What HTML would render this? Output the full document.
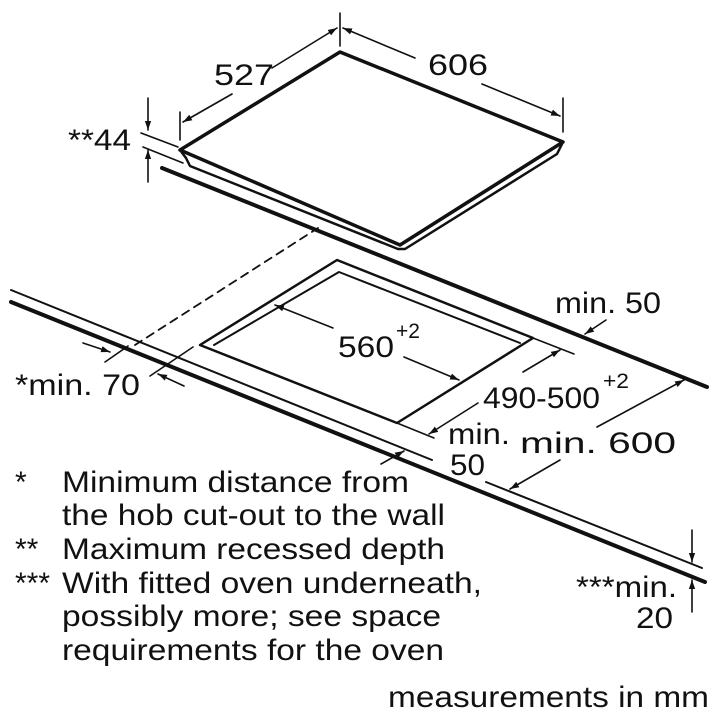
<!DOCTYPE html>
<html><head><meta charset="utf-8"><style>
html,body{margin:0;padding:0;background:#fff;width:720px;height:720px;overflow:hidden}
svg{display:block}
text{font-family:"Liberation Sans",Arial,sans-serif;fill:#111}
</style></head><body>
<svg width="720" height="720" viewBox="0 0 720 720" xmlns="http://www.w3.org/2000/svg">
<defs>
<marker id="a" viewBox="0 0 10 10" refX="10" refY="5" markerWidth="9" markerHeight="9" markerUnits="userSpaceOnUse" orient="auto"><path d="M0,1.5 L10,5 L0,8.5 z" fill="#111"/></marker>
</defs>
<g stroke="#111" fill="none" stroke-linecap="round" stroke-linejoin="round">
<polygon points="340,52 563,142 400,245 180,150" stroke-width="3.5" fill="#fff"/>
<polyline points="180,150 186,158 190,166 398,249 405,249 557,154 563,142" stroke-width="2.5"/>
<line x1="162" y1="168" x2="707" y2="387" stroke-width="4"/>
<line x1="11" y1="290" x2="432" y2="460" stroke-width="2"/>
<line x1="486" y1="482" x2="702" y2="568" stroke-width="2"/>
<line x1="11" y1="302" x2="705" y2="582" stroke-width="4"/>
<line x1="135" y1="345" x2="318" y2="228" stroke-width="1.8" stroke-dasharray="8,6"/>
<polygon points="337,260 533,338 397,423 200,345" stroke-width="2.5"/>
<polyline points="214,345 339,272 520,343" stroke-width="2"/>
<line x1="533" y1="338" x2="574" y2="354" stroke-width="1.6"/>
<line x1="397" y1="423" x2="434" y2="438" stroke-width="1.6"/>
<line x1="340" y1="13" x2="340" y2="46" stroke-width="1.6"/>
<line x1="180" y1="112" x2="180" y2="140" stroke-width="1.6"/>
<line x1="563" y1="98" x2="563" y2="132" stroke-width="1.6"/>
<line x1="272" y1="68" x2="337" y2="28" stroke-width="1.6" marker-end="url(#a)"/>
<line x1="232" y1="94" x2="183" y2="122" stroke-width="1.6" marker-end="url(#a)"/>
<line x1="415" y1="58" x2="343" y2="28" stroke-width="1.6" marker-end="url(#a)"/>
<line x1="482" y1="84" x2="560" y2="116" stroke-width="1.6" marker-end="url(#a)"/>
<line x1="141" y1="133" x2="178" y2="147" stroke-width="1.6"/>
<line x1="143" y1="147" x2="183" y2="163" stroke-width="1.6"/>
<line x1="148" y1="98" x2="148" y2="130" stroke-width="1.6" marker-end="url(#a)"/>
<line x1="148" y1="182" x2="148" y2="150" stroke-width="1.6" marker-end="url(#a)"/>
<line x1="333" y1="328" x2="275" y2="305" stroke-width="1.6" marker-end="url(#a)"/>
<line x1="404" y1="357" x2="459" y2="380" stroke-width="1.6" marker-end="url(#a)"/>
<line x1="523" y1="372" x2="560" y2="350" stroke-width="1.6" marker-end="url(#a)"/>
<line x1="478" y1="403" x2="429" y2="434" stroke-width="1.6" marker-end="url(#a)"/>
<line x1="606" y1="320" x2="585" y2="334" stroke-width="1.6" marker-end="url(#a)"/>
<line x1="597" y1="427" x2="684" y2="380" stroke-width="1.6" marker-end="url(#a)"/>
<line x1="560" y1="460" x2="510" y2="489" stroke-width="1.6" marker-end="url(#a)"/>
<line x1="381" y1="464" x2="404" y2="451" stroke-width="1.6" marker-end="url(#a)"/>
<line x1="83" y1="343" x2="110" y2="352" stroke-width="1.6" marker-end="url(#a)"/>
<line x1="184" y1="386" x2="158" y2="374" stroke-width="1.6" marker-end="url(#a)"/>
<line x1="105" y1="362" x2="128" y2="346" stroke-width="1.6"/>
<line x1="150" y1="376" x2="193" y2="347" stroke-width="1.6"/>
<line x1="692" y1="530" x2="692" y2="562" stroke-width="1.6" marker-end="url(#a)"/>
<line x1="692" y1="612" x2="692" y2="580" stroke-width="1.6" marker-end="url(#a)"/>
</g>
<g font-size="30">
<text x="214" y="85" textLength="60" lengthAdjust="spacingAndGlyphs">527</text>
<text x="428" y="75" textLength="60" lengthAdjust="spacingAndGlyphs">606</text>
<text x="68" y="150" textLength="63" lengthAdjust="spacingAndGlyphs">**44</text>
<text x="338" y="357" textLength="56" lengthAdjust="spacingAndGlyphs">560</text>
<text x="396" y="338" font-size="21" textLength="24" lengthAdjust="spacingAndGlyphs">+2</text>
<text x="483" y="408" textLength="117" lengthAdjust="spacingAndGlyphs">490-500</text>
<text x="603" y="388" font-size="21" textLength="26" lengthAdjust="spacingAndGlyphs">+2</text>
<text x="555" y="313" textLength="106" lengthAdjust="spacingAndGlyphs">min. 50</text>
<text x="520" y="453" textLength="156" lengthAdjust="spacingAndGlyphs">min. 600</text>
<text x="448" y="444" textLength="62" lengthAdjust="spacingAndGlyphs">min.</text>
<text x="450" y="475" textLength="35" lengthAdjust="spacingAndGlyphs">50</text>
<text x="15" y="395" textLength="125" lengthAdjust="spacingAndGlyphs">*min. 70</text>
<text x="576" y="597" textLength="101" lengthAdjust="spacingAndGlyphs">***min.</text>
<text x="636" y="628" textLength="37" lengthAdjust="spacingAndGlyphs">20</text>
<text x="15" y="492">*</text>
<text x="62" y="492" textLength="347" lengthAdjust="spacingAndGlyphs">Minimum distance from</text>
<text x="62" y="525" textLength="383" lengthAdjust="spacingAndGlyphs">the hob cut-out to the wall</text>
<text x="15" y="559">**</text>
<text x="62" y="559" textLength="383" lengthAdjust="spacingAndGlyphs">Maximum recessed depth</text>
<text x="15" y="593">***</text>
<text x="62" y="593" textLength="420" lengthAdjust="spacingAndGlyphs">With fitted oven underneath,</text>
<text x="62" y="626" textLength="379" lengthAdjust="spacingAndGlyphs">possibly more; see space</text>
<text x="62" y="660" textLength="382" lengthAdjust="spacingAndGlyphs">requirements for the oven</text>
<text x="388" y="707" textLength="321" lengthAdjust="spacingAndGlyphs">measurements in mm</text>
</g>
</svg>
</body></html>
